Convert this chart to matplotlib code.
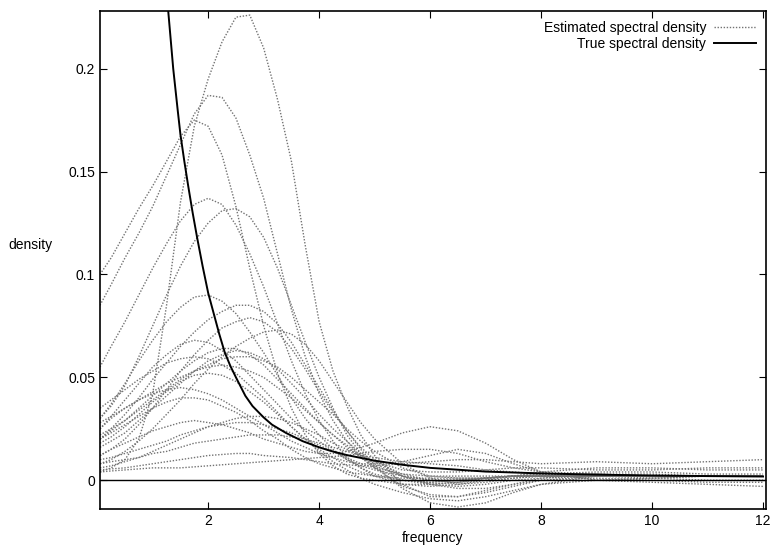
import matplotlib
matplotlib.use("Agg")
import matplotlib.pyplot as plt
from matplotlib.lines import Line2D

plt.rcParams['font.family'] = ['Liberation Sans', 'DejaVu Sans']

# frequency grid shared by all estimated curves
freq = [0.05, 0.25, 0.5, 0.75, 1.0, 1.25, 1.5, 1.75, 2.0, 2.25, 2.5, 2.75,
        3.0, 3.25, 3.5, 3.75, 4.0, 4.25, 4.5, 4.75, 5.0,
        5.5, 6.0, 6.5, 7.0, 7.5, 8.0, 9.0, 10.0, 11.0, 12.0]

# estimated spectral densities
est_01 = [0.004, 0.006, 0.01, 0.02, 0.042, 0.085, 0.135, 0.172, 0.195, 0.213, 0.225, 0.226, 0.21, 0.185, 0.155, 0.114, 0.077, 0.053, 0.036, 0.022, 0.012,
          -0.002, -0.008, -0.008, -0.005, -0.002, 0.001, 0.003, 0.002, 0.002, 0.002]
est_02 = [0.085, 0.095, 0.108, 0.12, 0.133, 0.148, 0.163, 0.178, 0.187, 0.186, 0.176, 0.158, 0.137, 0.11, 0.083, 0.06, 0.042, 0.029, 0.019, 0.011, 0.006,
          0.0, -0.002, -0.001, 0.001, 0.002, 0.003, 0.003, 0.002, 0.002, 0.002]
est_03 = [0.1, 0.108, 0.12, 0.132, 0.143, 0.155, 0.167, 0.175, 0.172, 0.158, 0.133, 0.103, 0.075, 0.052, 0.035, 0.022, 0.013, 0.007, 0.003, 0.001, 0.0,
          -0.002, -0.002, -0.001, 0.001, 0.002, 0.002, 0.002, 0.002, 0.002, 0.002]
est_04 = [0.055, 0.065, 0.077, 0.09, 0.103, 0.115, 0.126, 0.134, 0.137, 0.134, 0.124, 0.11, 0.094, 0.076, 0.058, 0.042, 0.029, 0.019, 0.011, 0.006, 0.002,
          -0.002, -0.003, -0.002, 0.0, 0.002, 0.003, 0.004, 0.004, 0.003, 0.003]
est_05 = [0.03, 0.036, 0.046, 0.06, 0.075, 0.09, 0.104, 0.116, 0.125, 0.131, 0.132, 0.128, 0.118, 0.103, 0.085, 0.067, 0.05, 0.035, 0.022, 0.013, 0.006,
          -0.003, -0.007, -0.008, -0.006, -0.003, 0.0, 0.002, 0.002, 0.002, 0.002]
est_06 = [0.03, 0.037, 0.047, 0.058, 0.068, 0.077, 0.084, 0.089, 0.09, 0.087, 0.081, 0.072, 0.062, 0.051, 0.04, 0.03, 0.022, 0.015, 0.01, 0.006, 0.003,
          0.0, -0.001, 0.0, 0.001, 0.002, 0.002, 0.002, 0.002, 0.002, 0.002]
est_07 = [0.012, 0.015, 0.02, 0.027, 0.035, 0.044, 0.053, 0.061, 0.068, 0.074, 0.077, 0.079, 0.077, 0.072, 0.064, 0.054, 0.043, 0.033, 0.024, 0.016, 0.01,
          0.002, -0.002, -0.003, -0.002, 0.0, 0.001, 0.002, 0.002, 0.002, 0.002]
est_08 = [0.008, 0.01, 0.014, 0.019, 0.025, 0.032, 0.039, 0.047, 0.054, 0.06, 0.065, 0.069, 0.072, 0.073, 0.071, 0.066, 0.058, 0.048, 0.038, 0.028, 0.02,
          0.008, 0.001, -0.002, -0.001, 0.001, 0.002, 0.002, 0.002, 0.002, 0.002]
est_09 = [0.025, 0.031, 0.039, 0.047, 0.055, 0.061, 0.066, 0.068, 0.067, 0.063, 0.058, 0.051, 0.044, 0.037, 0.03, 0.024, 0.019, 0.014, 0.01, 0.007, 0.005,
          0.002, 0.0, 0.0, 0.001, 0.002, 0.002, 0.002, 0.002, 0.002, 0.002]
est_10 = [0.02, 0.024, 0.029, 0.035, 0.041, 0.047, 0.053, 0.058, 0.062, 0.064, 0.064, 0.061, 0.056, 0.049, 0.042, 0.035, 0.028, 0.022, 0.016, 0.011, 0.007,
          0.002, 0.0, 0.0, 0.001, 0.002, 0.004, 0.006, 0.006, 0.005, 0.005]
est_11 = [0.016, 0.019, 0.023, 0.029, 0.035, 0.041, 0.047, 0.053, 0.058, 0.061, 0.063, 0.062, 0.059, 0.054, 0.047, 0.04, 0.032, 0.025, 0.019, 0.013, 0.009,
          0.003, 0.0, -0.001, 0.0, 0.001, 0.002, 0.002, 0.002, 0.002, 0.002]
est_12 = [0.022, 0.025, 0.029, 0.034, 0.039, 0.044, 0.049, 0.053, 0.056, 0.059, 0.06, 0.06, 0.058, 0.055, 0.05, 0.044, 0.038, 0.032, 0.025, 0.019, 0.014,
          0.006, 0.002, 0.001, 0.001, 0.002, 0.002, 0.002, 0.002, 0.002, 0.002]
est_13 = [0.018, 0.021, 0.026, 0.032, 0.038, 0.043, 0.048, 0.051, 0.052, 0.051, 0.048, 0.043, 0.038, 0.032, 0.026, 0.02, 0.015, 0.011, 0.007, 0.004, 0.002,
          0.0, -0.001, 0.0, 0.001, 0.002, 0.002, 0.002, 0.002, 0.002, 0.002]
est_14 = [0.02, 0.023, 0.027, 0.031, 0.035, 0.038, 0.04, 0.04, 0.039, 0.036, 0.033, 0.029, 0.024, 0.02, 0.015, 0.011, 0.008, 0.006, 0.004, 0.003, 0.002,
          0.001, 0.001, 0.001, 0.001, 0.002, 0.002, 0.002, 0.002, 0.002, 0.002]
est_15 = [0.01, 0.011, 0.013, 0.015, 0.017, 0.019, 0.022, 0.024, 0.026, 0.027, 0.028, 0.028, 0.027, 0.025, 0.023, 0.02, 0.017, 0.014, 0.011, 0.008, 0.006,
          0.003, 0.002, 0.002, 0.002, 0.002, 0.002, 0.002, 0.002, 0.002, 0.002]
est_16 = [0.008, 0.009, 0.01, 0.011, 0.013, 0.014, 0.016, 0.018, 0.019, 0.02, 0.021, 0.022, 0.022, 0.022, 0.021, 0.02, 0.018, 0.016, 0.014, 0.012, 0.011,
          0.009, 0.008, 0.007, 0.005, 0.004, 0.003, 0.002, 0.002, 0.002, 0.002]
est_17 = [0.004, 0.0045, 0.005, 0.0055, 0.006, 0.006, 0.006, 0.0065, 0.007, 0.0075, 0.008, 0.0085, 0.009, 0.0095, 0.01, 0.0105, 0.011, 0.0115, 0.012, 0.013, 0.014,
          0.015, 0.015, 0.013, 0.009, 0.006, 0.004, 0.003, 0.003, 0.002, 0.002]
est_18 = [0.012, 0.015, 0.018, 0.021, 0.024, 0.026, 0.028, 0.029, 0.028, 0.027, 0.025, 0.023, 0.02, 0.018, 0.016, 0.014, 0.013, 0.013, 0.014, 0.016, 0.018,
          0.023, 0.026, 0.024, 0.018, 0.01, 0.004, 0.0, 0.001, 0.002, 0.002]
est_19 = [0.025, 0.03, 0.035, 0.039, 0.042, 0.044, 0.045, 0.044, 0.042, 0.039, 0.035, 0.031, 0.027, 0.023, 0.019, 0.016, 0.013, 0.011, 0.009, 0.008, 0.008,
          0.009, 0.012, 0.015, 0.013, 0.008, 0.004, 0.0, 0.001, 0.002, 0.002]
est_20 = [0.02, 0.025, 0.032, 0.04, 0.049, 0.057, 0.065, 0.072, 0.078, 0.082, 0.085, 0.085, 0.082, 0.076, 0.067, 0.056, 0.045, 0.034, 0.024, 0.015, 0.007,
          -0.004, -0.011, -0.013, -0.011, -0.006, -0.002, 0.002, 0.001, 0.0, 0.0]
est_21 = [0.035, 0.039, 0.044, 0.049, 0.053, 0.057, 0.059, 0.06, 0.059, 0.056, 0.052, 0.046, 0.04, 0.033, 0.026, 0.02, 0.014, 0.009, 0.005, 0.001, -0.002,
          -0.006, -0.009, -0.01, -0.008, -0.005, -0.002, 0.0, -0.001, -0.002, -0.003]
est_22 = [0.005, 0.0055, 0.006, 0.007, 0.008, 0.009, 0.01, 0.011, 0.012, 0.0125, 0.013, 0.013, 0.012, 0.0115, 0.011, 0.01, 0.009, 0.008, 0.0075, 0.007, 0.007,
          0.008, 0.009, 0.01, 0.01, 0.009, 0.008, 0.009, 0.008, 0.009, 0.01]
est_23 = [0.028, 0.031, 0.035, 0.039, 0.043, 0.047, 0.05, 0.053, 0.055, 0.056, 0.055, 0.053, 0.05, 0.045, 0.04, 0.034, 0.028, 0.022, 0.017, 0.012, 0.008,
          0.002, -0.002, -0.004, -0.004, -0.002, 0.0, 0.001, 0.0, -0.001, -0.001]
est_24 = [0.006, 0.007, 0.009, 0.011, 0.014, 0.017, 0.02, 0.023, 0.026, 0.028, 0.03, 0.031, 0.031, 0.03, 0.028, 0.025, 0.022, 0.018, 0.015, 0.012, 0.009,
          0.005, 0.004, 0.004, 0.005, 0.006, 0.006, 0.005, 0.005, 0.006, 0.006]

estimates = [est_01, est_02, est_03, est_04, est_05, est_06, est_07, est_08,
             est_09, est_10, est_11, est_12, est_13, est_14, est_15, est_16,
             est_17, est_18, est_19, est_20, est_21, est_22, est_23, est_24]

# true spectral density
true_freq = [1.2, 1.28, 1.37, 1.45, 1.5, 1.57, 1.64, 1.72, 1.8, 1.9, 2.0, 2.1,
             2.2, 2.3, 2.4, 2.5, 2.67, 2.8, 3.0, 3.15, 3.4, 3.7, 4.0, 4.2,
             4.5, 5.0, 5.5, 6.0, 7.0, 8.0, 9.0, 10.0, 11.0, 12.0]
true_dens = [0.26, 0.228, 0.2, 0.18, 0.168, 0.155, 0.143, 0.13, 0.118, 0.104,
             0.091, 0.081, 0.071, 0.062, 0.0555, 0.05, 0.041, 0.036, 0.0305,
             0.027, 0.023, 0.019, 0.016, 0.0143, 0.0122, 0.0095, 0.0075, 0.006,
             0.0042, 0.0033, 0.0027, 0.0023, 0.002, 0.0018]

fig = plt.figure(figsize=(7.72, 5.5), dpi=100)
ax = fig.add_axes([0.1295, 0.0745, 0.8625, 0.9055])

for est in estimates:
    ax.plot(freq, est, color='0.45', lw=1.0, linestyle=(0, (1, 1.2)))

ax.plot(true_freq, true_dens, color='black', lw=1.4)
ax.axhline(0, color='black', lw=1.0)

ax.set_xlim(0.05, 12.05)
ax.set_ylim(-0.014, 0.228)
ax.set_xticks([2, 4, 6, 8, 10, 12])
ax.set_yticks([0, 0.05, 0.1, 0.15, 0.2])
ax.set_yticklabels(['0', '0.05', '0.1', '0.15', '0.2'])
ax.tick_params(direction='in', top=True, right=True, length=5, labelsize=10)
for s in ax.spines.values():
    s.set_linewidth(1.2)

ax.set_xlabel('frequency', fontsize=10, labelpad=2)
ax.set_ylabel('density', fontsize=10, rotation=0, ha='center', va='center')
ax.yaxis.set_label_coords(-0.105, 0.53)

handles = [Line2D([], [], color='0.45', lw=1.0, linestyle=(0, (1, 1.2))),
           Line2D([], [], color='black', lw=1.4)]
ax.legend(handles, ['Estimated spectral density', 'True spectral density'],
          loc='upper right', frameon=False, markerfirst=False, fontsize=10,
          handlelength=3.0, handletextpad=0.6, labelspacing=0.15,
          borderaxespad=0.3)

fig.savefig('out.png', dpi=100)
